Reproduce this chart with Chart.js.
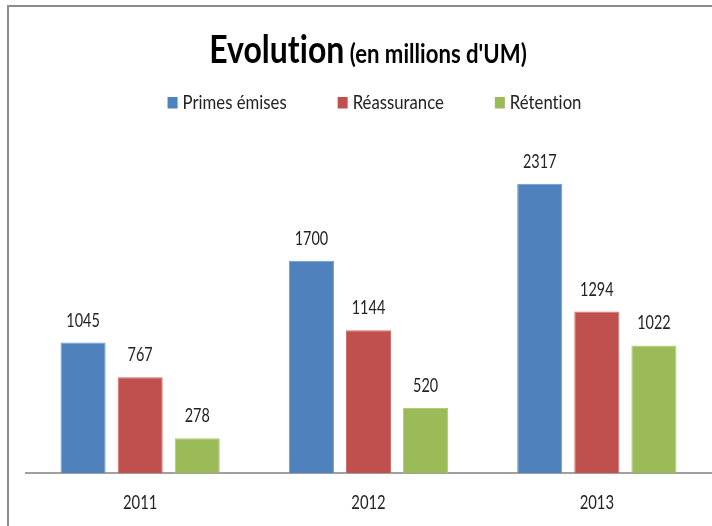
<!DOCTYPE html>
<html>
<head>
<meta charset="utf-8">
<script src="https://cdn.jsdelivr.net/npm/chart.js@4"></script>
<style>
  html, body { margin: 0; padding: 0; background: #fff; overflow: hidden; width: 712px; height: 526px; }
  #wrap { position: absolute; left: 0; top: 0; width: 740px; height: 526px; }
  #c { font-variant-ligatures: none; }
  #frame { position: absolute; left: 7px; top: 5px; width: 760px; height: 600px; border: 2px solid #8c8c8c; box-sizing: border-box; pointer-events: none; }
</style>
</head>
<body>
<div id="wrap"><canvas id="c" width="740" height="526"></canvas></div>
<div id="frame"></div>
<script>
const categories = ['2011', '2012', '2013'];
const seriesNames = ['Primes émises', 'Réassurance', 'Rétention'];
const primesEmises = [1045, 1700, 2317];
const reassurance = [767, 1144, 1294];
const retention = [278, 520, 1022];
const titleMain = 'Evolution';
const titleSub = ' (en millions d\'UM)';

const FONT = 'Lato, "Open Sans", sans-serif';
const colors = ['#4F81BD', '#C0504D', '#9BBB59'];
const borders = ['#6f98cc', '#d06c69', '#afcb78'];
const SX = 0.78;

function prep(ctx, font) {
  ctx.font = font;
  try { ctx.textRendering = 'optimizeSpeed'; } catch (e) {}
  try { ctx.letterSpacing = '0.01px'; } catch (e) {}
}
function textW(ctx, text, font, sx) {
  ctx.save(); prep(ctx, font); const w = ctx.measureText(text).width * sx; ctx.restore(); return w;
}
function drawText(ctx, text, x, y, font, sx, align, color) {
  ctx.save();
  prep(ctx, font);
  ctx.fillStyle = color || '#222';
  ctx.textAlign = align || 'left';
  ctx.textBaseline = 'alphabetic';
  ctx.translate(x, y);
  ctx.scale(sx, 1);
  ctx.fillText(text, 0, 0);
  ctx.restore();
}

const titlePlugin = {
  id: 'mixedTitle',
  afterDraw(chart) {
    const ctx = chart.ctx;
    const f1 = 'bold 39px ' + FONT;
    const f2 = 'bold 27px ' + FONT;
    const sxT = 0.82;
    const w1 = textW(ctx, titleMain, f1, sxT);
    const w2 = textW(ctx, titleSub, f2, sxT);
    const x = 368 - (w1 + w2) / 2;
    drawText(ctx, titleMain, x, 63, f1, sxT, 'left', '#000');
    drawText(ctx, titleSub, x + w1, 63, f2, sxT, 'left', '#000');
  }
};

const legendPlugin = {
  id: 'customLegend',
  afterDraw(chart) {
    const ctx = chart.ctx;
    const font = '19px ' + FONT;
    const sxL = 0.88;
    const box = 10, gapText = 5, gapItem = 51;
    const ds = chart.data.datasets;
    const widths = ds.map(d => box + gapText + textW(ctx, d.label, font, sxL));
    const total = widths.reduce((a, b) => a + b, 0) + gapItem * (ds.length - 1);
    let x = 374.5 - total / 2;
    ds.forEach((d, i) => {
      ctx.save();
      ctx.fillStyle = d.backgroundColor;
      ctx.fillRect(x, 97, box, 11.5);
      ctx.restore();
      drawText(ctx, d.label, x + box + gapText, 109, font, sxL, 'left', '#222');
      x += widths[i] + gapItem;
    });
  }
};

const labelPlugin = {
  id: 'valueLabels',
  afterDatasetsDraw(chart) {
    const ctx = chart.ctx;
    const font = '18.5px ' + FONT;
    chart.data.datasets.forEach((d, i) => {
      const meta = chart.getDatasetMeta(i);
      meta.data.forEach((el, j) => {
        drawText(ctx, String(d.data[j]), el.x, el.y - 16, font, SX, 'center', '#222');
      });
    });
    const xs = chart.scales.x;
    const tfont = '19px ' + FONT;
    chart.data.labels.forEach((lab, i) => {
      drawText(ctx, lab, xs.getPixelForTick(i), 509, tfont, SX, 'center', '#222');
    });
  }
};

const seriesValues = [primesEmises, reassurance, retention];

new Chart(document.getElementById('c'), {
  type: 'bar',
  data: {
    labels: categories,
    datasets: seriesNames.map((name, i) => ({
      label: name,
      data: seriesValues[i],
      backgroundColor: colors[i],
      borderColor: borders[i],
      borderWidth: 1,
      categoryPercentage: 0.75,
      barPercentage: 0.79
    }))
  },
  options: {
    responsive: false,
    animation: false,
    devicePixelRatio: 1,
    layout: { padding: { left: 26, right: 29, top: 161, bottom: 0 } },
    plugins: {
      legend: { display: false },
      title: { display: false },
      tooltip: { enabled: false }
    },
    scales: {
      x: {
        grid: { display: false },
        border: { display: true, color: '#a0a0a0', width: 2 },
        ticks: { display: false },
        afterFit(scale) { scale.height = 53; }
      },
      y: {
        display: false,
        min: 0,
        max: 2500
      }
    }
  },
  plugins: [titlePlugin, legendPlugin, labelPlugin]
});
</script>
</body>
</html>
